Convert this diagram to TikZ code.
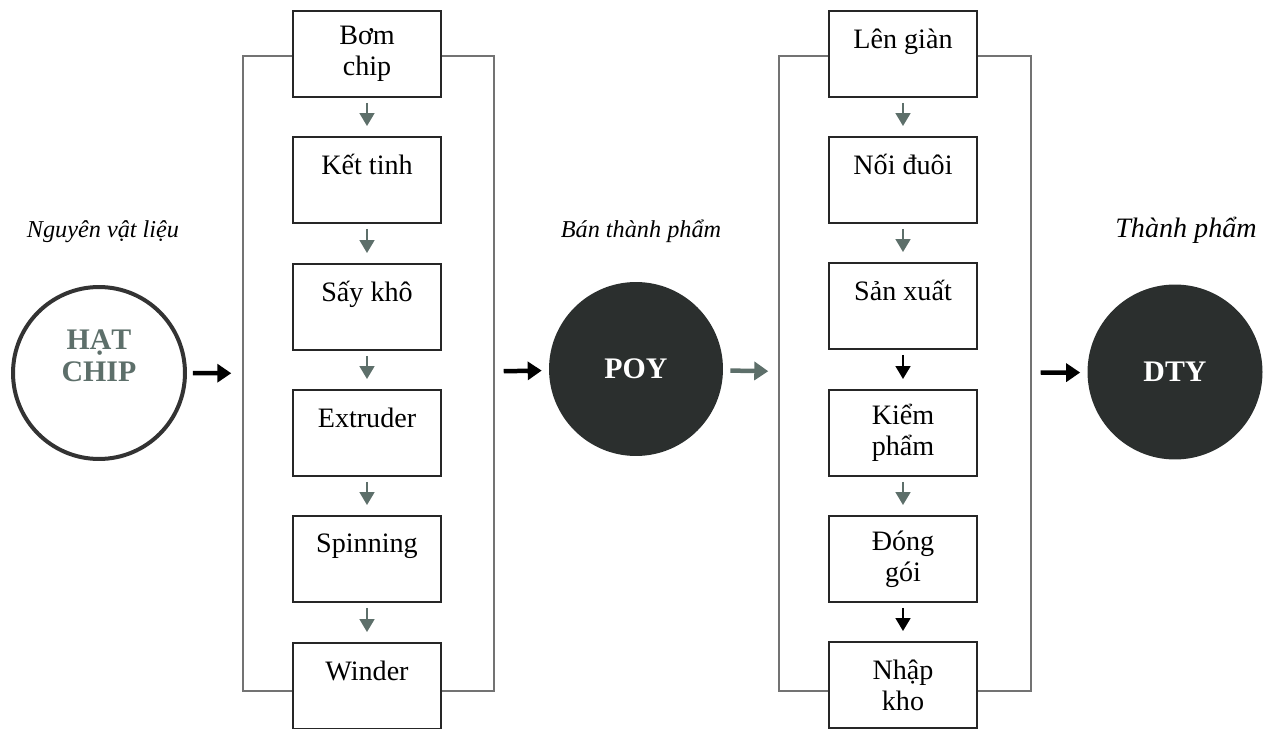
\documentclass[tikz,border=0pt]{standalone}
\usepackage{fontspec}
\setmainfont{Liberation Serif}
\usetikzlibrary{arrows.meta}

\definecolor{ashgreen}{HTML}{5D6F6A}
\definecolor{inkgray}{HTML}{2B2F2E}

\begin{document}
\begin{tikzpicture}[x=0.02cm, y=-0.02cm,
  stepbox/.style={draw=black!85, line width=0.04cm, fill=white, minimum width=2.96cm,
    minimum height=1.72cm, inner sep=0pt, align=center, font=\fontsize{16}{17.6}\selectfont},
  framebox/.style={draw=black!55, line width=0.03cm, minimum width=5.02cm, minimum height=12.7cm, inner sep=0pt},
  lightball/.style={circle, draw=black!80, line width=0.08cm, minimum size=3.44cm, inner sep=0pt},
  darkball/.style={circle, fill=inkgray, minimum size=3.48cm, inner sep=0pt,
    text=white, font=\fontsize{17}{20}\selectfont\bfseries},
  tag/.style={anchor=base, font=\fontsize{13.8}{16}\selectfont\itshape},
  downarr/.style={-{Triangle[width=0.3cm, length=0.26cm]}, line width=0.035cm,
    shorten <=0.1cm, shorten >=0.2cm},
  sidearr/.style={-{Triangle[width=0.36cm, length=0.28cm]}, line width=0.09cm}
  ]

  \useasboundingbox (0,0) rectangle (1266,729);

  % frames behind the two columns
  \node[framebox] (frameA) at (368.5, 373.5) {};
  \node[framebox, minimum width=5.04cm] (frameB) at (905, 373.5) {};

  % raw material, half product, product
  \node[lightball] (chip) at (99, 373) {};
  \node[text=ashgreen, align=center, font=\fontsize{17}{18}\selectfont\bfseries]
    (chiptext) at ([yshift=0.34cm]chip.center) {HẠT\\CHIP};
  \node[darkball] (poy) at (636, 369) {POY};
  \node[darkball, minimum size=3.5cm] (dty) at (1175, 372) {DTY};

  \node[tag] (rawtag) at (103, 237) {Nguyên vật liệu};
  \node[tag] (halftag) at (641, 237) {Bán thành phẩm};
  \node[tag, font=\fontsize{16}{18}\selectfont\itshape] (endtag) at (1186, 237) {Thành phẩm};

  % column 1, tops 11 137 264 390 516 643 (+43)
  \node[stepbox] (pump)  at (367,  54) {Bơm\\chip};
  \node[stepbox] (cryst) at (367, 180) {Kết tinh\\~};
  \node[stepbox] (dry)   at (367, 307) {Sấy khô\\~};
  \node[stepbox] (extr)  at (367, 433) {Extruder\\~};
  \node[stepbox] (spin)  at (367, 559) {Spinning\\~};
  \node[stepbox] (wind)  at (367, 686) {Winder\\~};

  % column 2
  \node[stepbox] (rack)  at (903,  54) {Lên giàn\\~};
  \node[stepbox] (join)  at (903, 180) {Nối đuôi\\~};
  \node[stepbox] (prod)  at (903, 306) {Sản xuất\\~};
  \node[stepbox] (check) at (903, 433) {Kiểm\\phẩm};
  \node[stepbox] (pack)  at (903, 559) {Đóng\\gói};
  \node[stepbox] (store) at (903, 685) {Nhập\\kho};

  \draw[downarr, ashgreen] (pump.south)  -- (cryst.north);
  \draw[downarr, ashgreen] (cryst.south) -- (dry.north);
  \draw[downarr, ashgreen] (dry.south)   -- (extr.north);
  \draw[downarr, ashgreen] (extr.south)  -- (spin.north);
  \draw[downarr, ashgreen] (spin.south)  -- (wind.north);

  \draw[downarr, ashgreen] (rack.south)  -- (join.north);
  \draw[downarr, ashgreen] (join.south)  -- (prod.north);
  \draw[downarr, black]    (prod.south)  -- (check.north);
  \draw[downarr, ashgreen] (check.south) -- (pack.north);
  \draw[downarr, black]    (pack.south)  -- (store.north);

  % arrows along the middle line
  \draw[sidearr, black, shorten <=0.12cm, shorten >=0.22cm] (chip) -- (frameA);
  \draw[sidearr, black, shorten <=0.18cm, shorten >=0.14cm] (frameA) -- (poy);
  \draw[sidearr, ashgreen, shorten <=0.14cm, shorten >=0.2cm] (poy) -- (frameB);
  \draw[sidearr, black, shorten <=0.18cm, shorten >=0.14cm] (frameB) -- (dty);

\end{tikzpicture}
\end{document}
